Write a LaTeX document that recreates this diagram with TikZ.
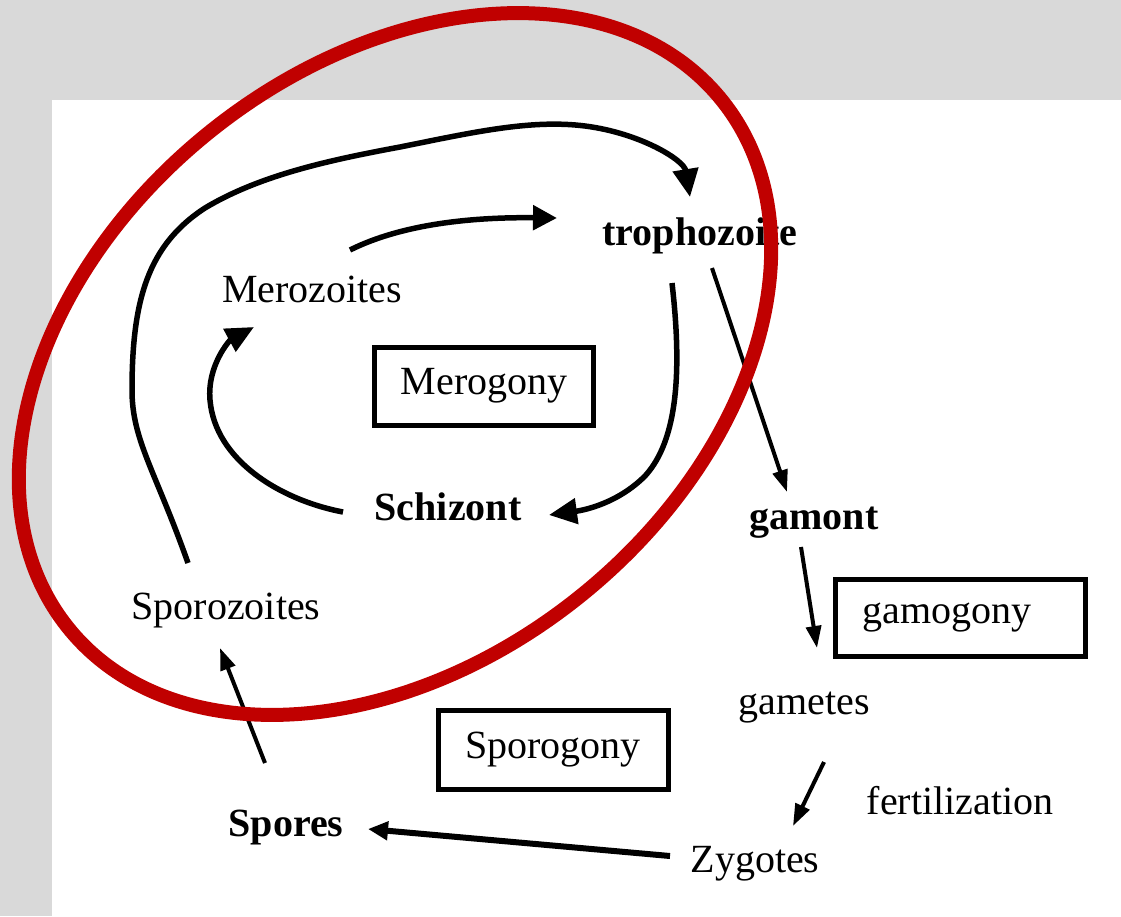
\documentclass[tikz,border=0pt]{standalone}
\usepackage{fontspec}
\setmainfont{Liberation Serif}
\usetikzlibrary{arrows.meta,calc}
\definecolor{bggray}{HTML}{D9D9D9}
\definecolor{ringred}{HTML}{C00000}
\tikzset{
  reg/.style={inner sep=0pt, font=\fontsize{40}{44}\selectfont},
  bld/.style={inner sep=0pt, font=\fontsize{40}{44}\selectfont\bfseries},
  boxed/.style={draw=black, line width=5pt, inner sep=0pt, font=\fontsize{40}{44}\selectfont},
  bigarrow/.style={line width=5.5pt, -{Triangle[length=28pt,width=25pt]}},
  midarrow/.style={line width=5.5pt, -{Triangle[length=24pt,width=24pt]}},
  thinarrow/.style={line width=4pt, -{Triangle[length=22pt,width=15pt]}},
  ring/.style={draw=ringred, line width=14pt}
}
\begin{document}
\begin{tikzpicture}[x=1pt,y=-1pt]
\useasboundingbox (0,0) rectangle (1121,916);
\fill[bggray] (0,0) rectangle (1121,916);
\fill[white] (52,100) rectangle (1121,916);

% nodes
\node[reg] (mero) at (312,289) {Merozoites};
\node[bld] (troph) at (700,236) {trophozoite};
\node[boxed, minimum width=219pt, minimum height=78pt] (merog) at (484,386) {Merogony};
\node[bld] (schiz) at (448,507) {Schizont};
\node[bld] (gamont) at (814,523) {gamont};
\node[boxed, minimum width=250pt, minimum height=77pt] (gamog) at (960,618) {\hspace*{-26pt}gamogony};
\node[reg] (gametes) at (804,708) {gametes};
\node[boxed, minimum width=230pt, minimum height=79pt] (sporog) at (553,750) {Sporogony};
\node[reg] (fert) at (960,801) {fertilization};
\node[reg] (zyg) at (755,864) {Zygotes};
\node[bld] (spores) at (286,828) {Spores};
\node[reg] (sporoz) at (226,611) {Sporozoites};

% connectors
\draw[midarrow] ($(mero)+(38,-39)$) .. controls ($(mero)+(90,-65)$) and ($(mero)+(160,-72)$) .. ($(troph)+(-143,-18)$);
\draw[bigarrow] ($(sporoz)+(-38,-48)$) .. controls (155,470) and (132,440) .. (132,390)
   .. controls (132,300) and (148,245) .. (205,208)
   .. controls (260,175) and (330,160) .. (400,147)
   .. controls (470,133) and (530,119) .. (585,126)
   .. controls (640,133) and (684,160) .. ($(troph)+(-10,-39)$);
\draw[bigarrow] ($(troph)+(-28,47)$) .. controls (682,370) and (678,440) .. (645,476)
   .. controls (618,503) and (585,510) .. ($(schiz)+(101,8)$);
\draw[bigarrow] ($(schiz)+(-105,5)$) .. controls (280,500) and (215,460) .. (210,400)
   .. controls (207,365) and (230,340) .. ($(mero)+(-58,38)$);
\draw[thinarrow] ($(troph)+(12,32)$) -- ($(gamont)+(-27,-31)$);
\draw[thinarrow] ($(gamont)+(-13,24)$) -- ($(gametes)+(13,-60)$);
\draw[thinarrow] ($(gametes)+(20,54)$) -- ($(zyg)+(38,-38)$);
\draw[line width=6pt, -{Triangle[length=20pt,width=18pt]}] ($(zyg)+(-85,-8)$) -- ($(spores)+(82,1)$);
\draw[thinarrow] ($(spores)+(-21,-65)$) -- ($(sporoz)+(-6,37)$);

% red ring
\draw[ring, rotate around={39:(395,364)}] (395,364) ellipse [x radius=420, y radius=297];
\end{tikzpicture}
\end{document}
